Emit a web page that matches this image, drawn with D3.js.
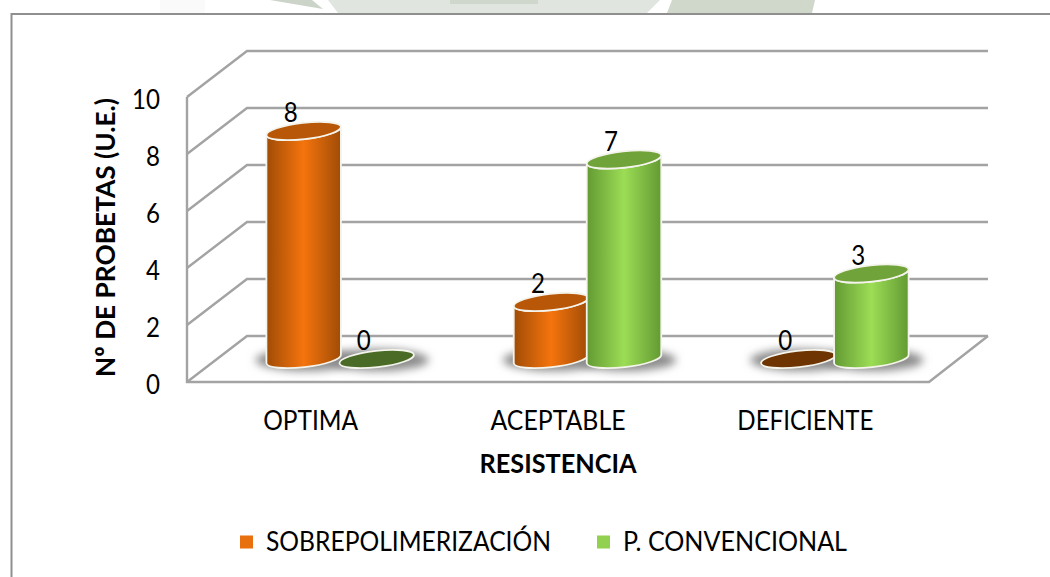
<!DOCTYPE html>
<html>
<head>
<meta charset="utf-8">
<script src="https://cdn.jsdelivr.net/npm/d3@7"></script>
<style>
  html, body { margin: 0; padding: 0; background: #fff; }
  svg { display: block; }
  text { font-family: Lato, "Open Sans", sans-serif; fill: #000; }
</style>
</head>
<body>
<svg class="chart"></svg>
<script>
// Chart values
var categories = ["OPTIMA", "ACEPTABLE", "DEFICIENTE"];
var seriesNames = ["SOBREPOLIMERIZACIÓN", "P. CONVENCIONAL"];
var sobrepolimerizacion = [8, 2, 0];
var convencional = [0, 7, 3];
var yTicks = [0, 2, 4, 6, 8, 10];

function renderChart() {
    var width = 1050, height = 577;
    var front = { left: 187, right: 929, top: 97, bottom: 382 };
    var depth = { x: 60, y: 46 };
    var backRight = 988;

    var chart = d3.select(".chart").attr("width", width).attr("height", height);
    var defs = chart.append("defs");

    // Scales sit on the front plane, cylinders stand half way into the depth
    var xScale = d3.scaleBand().domain(categories).range([front.left, front.right]);
    var xInner = d3.scaleBand().domain(seriesNames).range([-73, 73]);
    var yScale = d3.scaleLinear().domain([0, 10]).range([front.bottom, front.top]);

    var colors = [
        { edge: "#a04c06", mid: "#f5740d", top: "#b95708", flat: "#6e3502", key: "#e8700f" },
        { edge: "#639a33", mid: "#9cdd55", top: "#71a33b", flat: "#4a6b26", key: "#92d050" }
    ];

    colors.forEach(function(c, i) {
        var grad = defs.append("linearGradient").attr("id", "cyl" + i);
        grad.append("stop").attr("offset", "0%").attr("stop-color", c.edge);
        grad.append("stop").attr("offset", "50%").attr("stop-color", c.mid);
        grad.append("stop").attr("offset", "100%").attr("stop-color", c.edge);
    });
    defs.append("filter").attr("id", "blur")
        .attr("x", "-30%").attr("y", "-80%").attr("width", "160%").attr("height", "260%")
        .append("feGaussianBlur").attr("stdDeviation", 4);

    // Watermark showing above the frame
    var watermark = [
        { d: "M160,0 L205,0 L205,13 L160,13 Z", fill: "#f9faf9" },
        { d: "M270,0 L312,0 L323,9 Z", fill: "#ccd3c8" },
        { d: "M328,0 L660,0 L647,13 L338,13 Z", fill: "#e1e5e0" },
        { d: "M450,0 L538,0 L538,4 L450,4 Z", fill: "#cfd6cc" },
        { d: "M672,0 L815,0 L812,13 L667,13 Z", fill: "#d0d7cb" }
    ];
    chart.append("g").selectAll("path").data(watermark).enter().append("path")
        .attr("d", function(d) { return d.d; })
        .attr("fill", function(d) { return d.fill; });

    // Outer frame, open on the right and at the bottom of the photo
    chart.append("path")
        .attr("d", "M11.5," + height + " V14 H" + width)
        .attr("fill", "none").attr("stroke", "#8f8f8f").attr("stroke-width", 2);

    // Walls and floor
    var grid = chart.append("g").attr("fill", "none").attr("stroke", "#a3a3a3").attr("stroke-width", 2.4);
    grid.selectAll("path.gridline").data(yTicks).enter().append("path")
        .attr("class", "gridline")
        .attr("d", function(d) {
            var y = yScale(d);
            return "M" + front.left + "," + y + " L" + (front.left + depth.x) + "," + (y - depth.y) + " H" + backRight;
        });
    grid.append("path").attr("d",
        "M" + front.left + "," + front.top + " V" + front.bottom + " H" + front.right +
        " L" + backRight + "," + (front.bottom - depth.y));

    // Axes
    var yAxis = d3.axisLeft(yScale).tickValues(yTicks).tickSize(0).tickPadding(27);
    var yG = chart.append("g").attr("transform", "translate(" + front.left + ",3)").call(yAxis);
    yG.select(".domain").remove();
    yG.selectAll("text").style("font-size", "26px").attr("fill", "#000")
        .attr("textLength", function(d) { return String(d).length * 14; })
        .attr("lengthAdjust", "spacingAndGlyphs");

    var xAxis = d3.axisBottom(xScale).tickSize(0).tickPadding(30);
    var xG = chart.append("g").attr("transform", "translate(0," + front.bottom + ")").call(xAxis);
    xG.select(".domain").remove();
    xG.selectAll("text").style("font-size", "26px").attr("fill", "#000")
        .attr("textLength", function(d) { return { OPTIMA: 95, ACEPTABLE: 135, DEFICIENTE: 136 }[d]; })
        .attr("lengthAdjust", "spacingAndGlyphs");

    chart.append("text")
        .attr("x", 558).attr("y", 473)
        .attr("text-anchor", "middle")
        .attr("textLength", 157).attr("lengthAdjust", "spacingAndGlyphs")
        .style("font-size", "26px").style("font-weight", "bold")
        .text("RESISTENCIA");

    chart.append("text")
        .attr("transform", "translate(115,237.5) rotate(-90)")
        .attr("text-anchor", "middle")
        .attr("textLength", 279).attr("lengthAdjust", "spacingAndGlyphs")
        .style("font-size", "27px").style("font-weight", "bold")
        .text("Nº DE PROBETAS (U.E.)");

    // Cylinders
    var rx = 37.5, ry = 8.2, tilt = -6.5;
    var rad = tilt * Math.PI / 180;
    var ex = rx * Math.cos(rad), ey = rx * Math.sin(rad);
    var bars = [];
    categories.forEach(function(cat, c) {
        [sobrepolimerizacion, convencional].forEach(function(values, s) {
            bars.push({
                cx: xScale(cat) + xScale.bandwidth() / 2 + depth.x / 2 - 0.5 + xInner(seriesNames[s]) + xInner.bandwidth() / 2,
                value: values[c],
                series: s
            });
        });
    });
    var topY = function(v) { return yScale(v) - depth.y / 2; };

    chart.append("g").selectAll("ellipse").data(bars).enter().append("ellipse")
        .attr("cx", function(d) { return d.cx + 2; })
        .attr("cy", topY(0) + 1)
        .attr("rx", 50).attr("ry", 11)
        .attr("fill", "#8c8c8c")
        .attr("filter", "url(#blur)");

    var bar = chart.append("g").selectAll("g").data(bars).enter().append("g");

    bar.filter(function(d) { return d.value > 0; }).append("path")
        .attr("d", function(d) {
            var yt = topY(d.value), yb = topY(0);
            return "M" + (d.cx - ex) + "," + (yt - ey) + " L" + (d.cx - ex) + "," + (yb - ey) +
                " A" + rx + "," + ry + " " + tilt + " 0 0 " + (d.cx + ex) + "," + (yb + ey) +
                " L" + (d.cx + ex) + "," + (yt + ey) +
                " A" + rx + "," + ry + " " + tilt + " 0 1 " + (d.cx - ex) + "," + (yt - ey) + " Z";
        })
        .attr("fill", function(d) { return "url(#cyl" + d.series + ")"; })
        .attr("stroke", "#f4f4ec").attr("stroke-width", 1.8);

    bar.append("ellipse")
        .attr("transform", function(d) {
            return "translate(" + d.cx + "," + topY(d.value) + ") rotate(" + tilt + ")";
        })
        .attr("rx", rx).attr("ry", ry)
        .attr("fill", function(d) { return d.value > 0 ? colors[d.series].top : colors[d.series].flat; })
        .attr("stroke", "#f4f4ec").attr("stroke-width", 1.8);

    bar.append("text")
        .attr("x", function(d) { return d.cx - 13; })
        .attr("y", function(d) { return topY(d.value) - 18; })
        .attr("dy", "0.36em")
        .attr("text-anchor", "middle")
        .attr("textLength", 14).attr("lengthAdjust", "spacingAndGlyphs")
        .style("font-size", "26px")
        .text(function(d) { return d.value; });

    // Legend
    var legendX = d3.scaleOrdinal().domain(seriesNames).range([240, 597]);
    var legendW = d3.scaleOrdinal().domain(seriesNames).range([285, 224]);
    var legend = chart.append("g").selectAll("g").data(seriesNames).enter().append("g")
        .attr("transform", function(d) { return "translate(" + legendX(d) + ",542)"; });
    legend.append("rect")
        .attr("x", 0).attr("y", -6.5).attr("width", 13).attr("height", 13)
        .attr("fill", function(d, i) { return colors[i].key; });
    legend.append("text")
        .attr("x", 26).attr("dy", "0.36em")
        .attr("textLength", function(d) { return legendW(d); })
        .attr("lengthAdjust", "spacingAndGlyphs")
        .style("font-size", "26px")
        .text(function(d) { return d; });
}

window.onload = renderChart;
</script>
</body>
</html>
